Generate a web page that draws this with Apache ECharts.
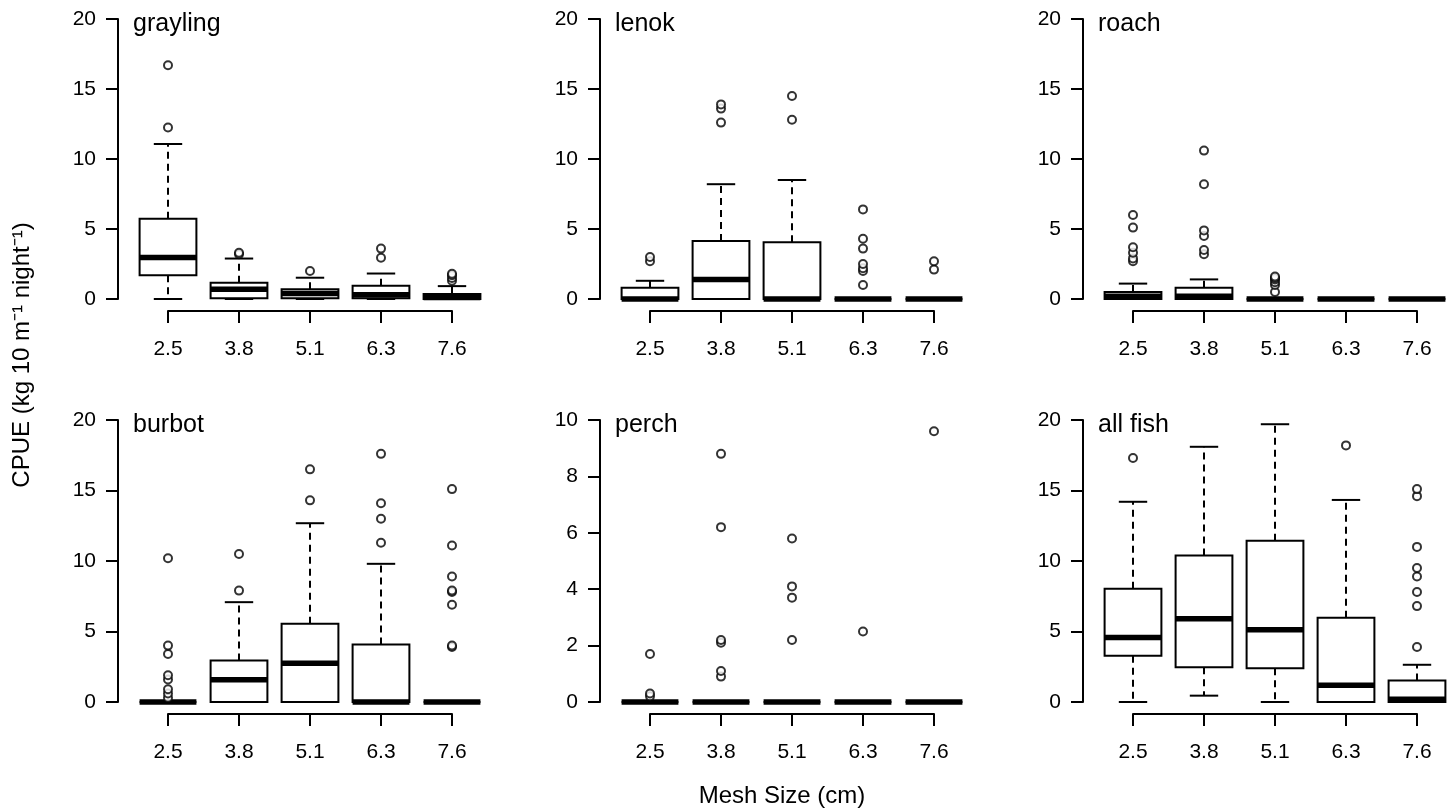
<!DOCTYPE html>
<html>
<head>
<meta charset="utf-8">
<script src="https://cdn.jsdelivr.net/npm/echarts@6/dist/echarts.min.js"></script>
<style>html,body{margin:0;background:#fff}#chart{width:1455px;height:811px}</style>
</head>
<body>
<div id="chart"></div>
<script>
const meshSizes = ['2.5', '3.8', '5.1', '6.3', '7.6'];
const species = ['grayling', 'lenok', 'roach', 'burbot', 'perch', 'all fish'];
const yMax = [20, 20, 20, 20, 10, 20];
const yInterval = [5, 5, 5, 5, 2, 5];

// [min, q1, median, q3, max] per mesh size
const graylingBoxes = [[0, 1.7, 2.96, 5.73, 11.07], [0, 0.05, 0.69, 1.16, 2.89], [0, 0.05, 0.4, 0.69, 1.52], [0, 0.05, 0.3, 0.95, 1.82], [0, 0, 0.1, 0.36, 0.92]];
const lenokBoxes = [[0, 0, 0, 0.8, 1.3], [0, 0, 1.4, 4.15, 8.2], [0, 0, 0, 4.05, 8.5], [0, 0, 0, 0, 0], [0, 0, 0, 0, 0]];
const roachBoxes = [[0, 0, 0.2, 0.5, 1.1], [0, 0, 0.2, 0.8, 1.4], [0, 0, 0, 0, 0], [0, 0, 0, 0, 0], [0, 0, 0, 0, 0]];
const burbotBoxes = [[0, 0, 0, 0, 0], [0, 0, 1.58, 2.95, 7.08], [0, 0, 2.74, 5.55, 12.68], [0, 0, 0, 4.08, 9.8], [0, 0, 0, 0, 0]];
const perchBoxes = [[0, 0, 0, 0, 0], [0, 0, 0, 0, 0], [0, 0, 0, 0, 0], [0, 0, 0, 0, 0], [0, 0, 0, 0, 0]];
const allFishBoxes = [[0, 3.28, 4.58, 8.03, 14.2], [0.45, 2.46, 5.9, 10.39, 18.1], [0, 2.4, 5.12, 11.43, 19.7], [0, 0, 1.18, 5.97, 14.33], [0, 0, 0.2, 1.53, 2.64]];

const graylingOut = [[12.25, 16.7], [3.2, 3.3], [2.0], [2.95, 3.6], [1.3, 1.5, 1.7, 1.8]];
const lenokOut = [[2.7, 3.0], [12.6, 13.6, 13.9], [12.8, 14.5], [1.0, 2.0, 2.2, 2.5, 3.6, 4.3, 6.4], [2.1, 2.7]];
const roachOut = [[2.7, 2.9, 3.3, 3.7, 5.1, 6.0], [3.2, 3.5, 4.5, 4.9, 8.2, 10.6], [0.5, 1.0, 1.2, 1.4, 1.5, 1.6], [], []];
const burbotOut = [[0.3, 0.6, 0.9, 1.6, 1.9, 3.4, 4.0, 10.2], [7.9, 10.5], [14.3, 16.5], [11.3, 13.0, 14.1, 17.6], [3.9, 4.0, 6.9, 7.8, 7.9, 8.9, 11.1, 15.1]];
const perchOut = [[0.2, 0.3, 1.7], [0.9, 1.1, 2.1, 2.2, 6.2, 8.8], [2.2, 3.7, 4.1, 5.8], [2.5], [9.6]];
const allFishOut = [[17.3], [], [], [18.2], [3.9, 6.8, 7.8, 8.9, 9.5, 11.0, 14.6, 15.1]];

const boxSets = [graylingBoxes, lenokBoxes, roachBoxes, burbotBoxes, perchBoxes, allFishBoxes];
const outSets = [graylingOut, lenokOut, roachOut, burbotOut, perchOut, allFishOut];

const font = 'Liberation Sans, Arial, sans-serif';
const colLeft = [168, 650, 1133];
const rowTop = [19, 420];
const rowHeight = [280, 282];
const plotWidth = 284;
const lw = 2;

const grid = [], xAxis = [], yAxis = [], series = [], graphic = [];

function renderBox(params, api) {
  const i = api.value(0);
  const x = api.coord([i, 0])[0];
  const hw = api.size([1, 0])[0] * 0.4;
  const y = [1, 2, 3, 4, 5].map(k => api.coord([i, api.value(k)])[1]);
  const stroke = { stroke: '#000', lineWidth: lw, fill: null };
  const dash = { stroke: '#000', lineWidth: lw, lineDash: [7, 5] };
  return {
    type: 'group',
    children: [
      { type: 'line', shape: { x1: x, y1: y[3], x2: x, y2: y[4] }, style: dash },
      { type: 'line', shape: { x1: x, y1: y[1], x2: x, y2: y[0] }, style: dash },
      { type: 'line', shape: { x1: x - hw / 2, y1: y[4], x2: x + hw / 2, y2: y[4] }, style: stroke },
      { type: 'line', shape: { x1: x - hw / 2, y1: y[0], x2: x + hw / 2, y2: y[0] }, style: stroke },
      { type: 'rect', shape: { x: x - hw, y: y[3], width: 2 * hw, height: y[1] - y[3] }, style: { stroke: '#000', lineWidth: lw, fill: '#fff' } },
      { type: 'line', shape: { x1: x - hw, y1: y[2], x2: x + hw, y2: y[2] }, style: { stroke: '#000', lineWidth: 5.5 } }
    ]
  };
}

species.forEach((name, p) => {
  const r = Math.floor(p / 3), c = p % 3;
  grid.push({ left: colLeft[c], top: rowTop[r], width: plotWidth, height: rowHeight[r] });
  xAxis.push({
    type: 'category', gridIndex: p, data: meshSizes, boundaryGap: false, offset: 12,
    axisLine: { onZero: false, lineStyle: { color: '#000', width: lw } },
    axisTick: { length: 12, lineStyle: { color: '#000', width: lw }, alignWithLabel: true },
    axisLabel: { color: '#000', fontSize: 21, fontFamily: font, margin: 28, interval: 0 },
    splitLine: { show: false }
  });
  yAxis.push({
    type: 'value', gridIndex: p, min: 0, max: yMax[p], interval: yInterval[p], offset: 50,
    axisLine: { show: true, onZero: false, lineStyle: { color: '#000', width: lw } },
    axisTick: { show: true, length: 12, lineStyle: { color: '#000', width: lw } },
    axisLabel: { color: '#000', fontSize: 21, fontFamily: font, margin: 22 },
    splitLine: { show: false }
  });
  series.push({
    type: 'custom', xAxisIndex: p, yAxisIndex: p, renderItem: renderBox,
    encode: { x: 0, y: [1, 2, 3, 4, 5] },
    data: boxSets[p].map((b, i) => [i].concat(b)), z: 2
  });
  const pts = [];
  outSets[p].forEach((vals, i) => vals.forEach(v => pts.push([i, v])));
  series.push({
    type: 'scatter', xAxisIndex: p, yAxisIndex: p, data: pts, symbol: 'circle', symbolSize: 8,
    itemStyle: { color: '#fff', borderColor: '#000', borderWidth: 2 }, z: 3
  });
  graphic.push({
    type: 'text', left: colLeft[c] - 35, top: rowTop[r] - 7,
    style: { text: name, font: '25px ' + font, fill: '#000' }
  });
});

graphic.push({
  type: 'text', x: 10, y: 355, rotation: Math.PI / 2,
  style: { text: 'CPUE (kg 10 m\u207B\u00B9 night\u207B\u00B9)', font: '24px ' + font, fill: '#000', align: 'center', verticalAlign: 'top' }
});
graphic.push({
  type: 'text', x: 782, y: 784,
  style: { text: 'Mesh Size (cm)', font: '24px ' + font, fill: '#000', align: 'center', verticalAlign: 'top' }
});

const chart = echarts.init(document.getElementById('chart'));
chart.setOption({ animation: false, backgroundColor: '#fff', grid, xAxis, yAxis, series, graphic });
</script>
</body>
</html>
